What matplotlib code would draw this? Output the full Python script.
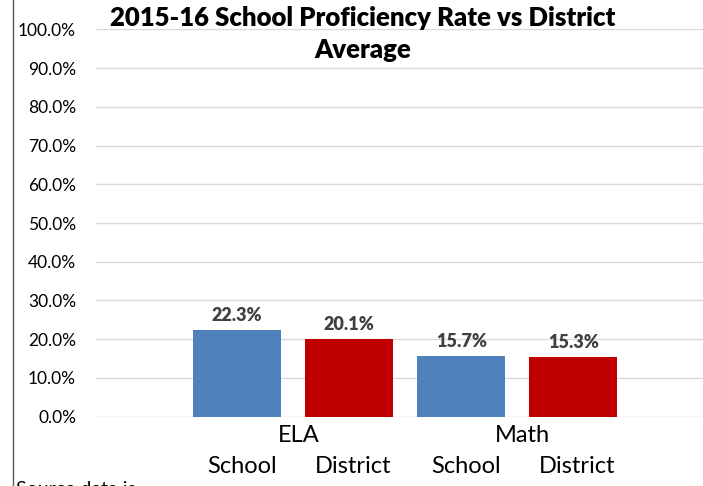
import matplotlib
matplotlib.use("Agg")
import matplotlib.pyplot as plt
from matplotlib.lines import Line2D

plt.rcParams['font.family'] = ['Lato', 'DejaVu Sans']

# data
subjects = ["ELA", "Math"]
groups = ["School", "District"]
values = [[22.3, 20.1], [15.7, 15.3]]   # percent, per subject: school, district
colors = ["#4F81BD", "#C00000"]
yticks = [0, 10, 20, 30, 40, 50, 60, 70, 80, 90, 100]
title = "2015-16 School Proficiency Rate vs District\nAverage"
source_text = "Source data is"

W, H = 703, 486
fig = plt.figure(figsize=(W / 100, H / 100), dpi=100)
ax = fig.add_axes([96 / W, 69.5 / H, 607 / W, 387 / H])

pos = 0
xs = []
for i, subj in enumerate(subjects):
    for j, g in enumerate(groups):
        v = values[i][j]
        ax.bar(pos, v, width=0.79, color=colors[j], zorder=3)
        ax.text(pos, v + 1.5, "%.1f%%" % v, ha='center', va='bottom',
                fontsize=13, fontweight='heavy', color='#404040', zorder=4)
        ax.text(pos + 0.04, -0.128, g, transform=ax.get_xaxis_transform(),
                ha='center', va='center', fontsize=17, color='black')
        xs.append(pos)
        pos += 1
    ax.text((xs[-2] + xs[-1]) / 2 + 0.05, -0.048, subj,
            transform=ax.get_xaxis_transform(),
            ha='center', va='center', fontsize=17, color='black')

ax.set_xlim(-1.26, 4.16)
ax.set_ylim(0, 100)
ax.set_yticks(yticks)
ax.set_yticklabels(["%.1f%%" % t for t in yticks])
ax.set_xticks([])
ax.tick_params(axis='y', length=0, pad=14.4, labelsize=12.5)
ax.grid(axis='y', color='#D9D9D9', linewidth=1, zorder=0)
for s in ax.spines.values():
    s.set_visible(False)

fig.text(363 / W, 1 - 34 / H, title, ha='center', va='center',
         fontsize=18.5, fontweight='heavy', linespacing=1.4)

# left border of the chart box
fig.add_artist(Line2D([12.5 / W, 12.5 / W], [0, 1], color='#595959', linewidth=1))

# cut-off source note at the bottom
fig.text(16 / W, 1 - 481 / H, source_text, ha='left', va='top', fontsize=14)

fig.savefig("out.png", dpi=100)
